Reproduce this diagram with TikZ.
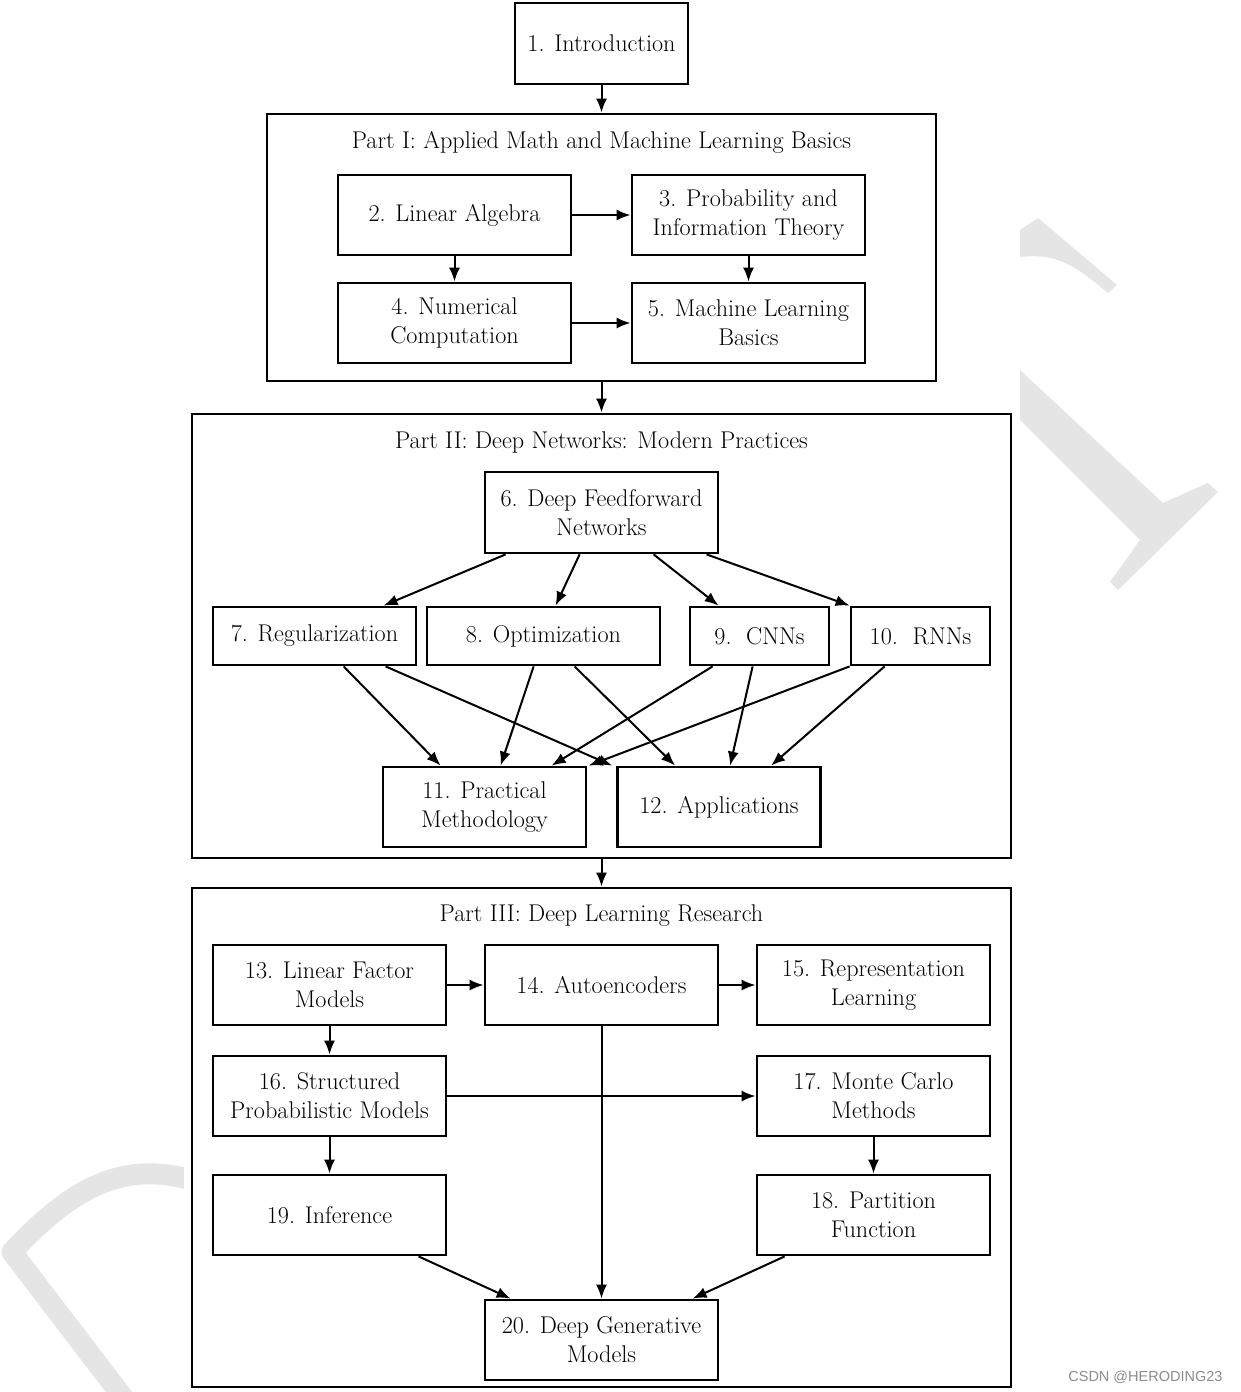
\documentclass[tikz,border=0pt]{standalone}
\usepackage{fontspec}
\newfontfamily\wmfont{Liberation Sans}
\usetikzlibrary{arrows.meta,calc}
\newcommand\dlbfont{\fontsize{24.2}{29}\selectfont}
\definecolor{wmgray}{RGB}{229,229,229}
\definecolor{wmtext}{RGB}{140,140,140}
\begin{document}
\begin{tikzpicture}[x=1pt,y=-1pt,
  box/.style={draw, line width=2.8pt, minimum width=233pt, minimum height=80pt,
    align=center, inner sep=0pt, font=\dlbfont},
  partbox/.style={draw, line width=2.8pt, inner sep=0pt},
  parttitle/.style={inner sep=0pt, font=\dlbfont},
  arr/.style={-{Latex[length=14pt,width=11pt]}, line width=2pt},
  wm/.style={fill=wmgray, draw=none}]
\useasboundingbox (0,0) rectangle (1240,1392);
\fill[white] (0,0) rectangle (1240,1392);
% watermark shapes
\draw[wmgray, line width=21pt, line join=round]
  (192,1180) .. controls (120,1160) and (70,1190) .. (12,1252) -- (125,1400);
\fill[wm] (1020,230) -- (1038,218) -- (1117,285) -- (1108,293)
  .. controls (1080,270) and (1060,252) .. (1020,257) -- cycle;
\fill[wm] (1020,370) -- (1163,503) -- (1208,483) -- (1218,492) -- (1118,590)
  -- (1110,582) -- (1140,540) -- (1020,420) -- cycle;
\fill[white] (184,0) rectangle (1020,1392);
\node[text=wmtext, font=\wmfont\fontsize{14.5}{16}\selectfont, anchor=east] (wmark) at (1226,1377) {CSDN @HERODING23};

% containers
\node[partbox, minimum width=669pt, minimum height=267pt] (p1) at (601.5,247.5) {};
\node[partbox, minimum width=819pt, minimum height=444pt] (p2) at (601.5,636) {};
\node[partbox, minimum width=819pt, minimum height=499pt] (p3) at (601.5,1137.5) {};
\node[parttitle] (t1) at (601.5,142) {Part I: Applied Math and Machine Learning Basics};
\node[parttitle] (t2) at (601.5,442) {Part II: Deep Networks: Modern Practices};
\node[parttitle] (t3) at (601.5,916) {Part III: Deep Learning Research};

% nodes
\node[box, minimum width=173pt, minimum height=81pt] (n1) at (601.5,43.5) {1. Introduction};
\node[box] (n2) at (454.5,215) {2. Linear Algebra};
\node[box] (n3) at (748.5,215) {3. Probability and\\Information Theory};
\node[box] (n4) at (454.5,323) {4. Numerical\\Computation};
\node[box] (n5) at (748.5,323) {5. Machine Learning\\Basics};

\node[box, minimum height=81pt] (n6) at (601.5,512.5) {6. Deep Feedforward\\Networks};
\node[box, minimum width=203pt, minimum height=58pt] (n7) at (314.5,636) {7. Regularization};
\node[box, minimum height=58pt] (n8) at (543.5,636) {8. Optimization};
\node[box, minimum width=139pt, minimum height=58pt] (n9) at (759.5,636) {9.\ \ CNNs};
\node[box, minimum width=139pt, minimum height=58pt] (n10) at (920.5,636) {10.\ \ RNNs};
\node[box, minimum width=203pt] (n11) at (484.5,807) {11. Practical\\Methodology};
\node[box, minimum width=203pt] (n12) at (719,807) {12. Applications};

\node[box] (n13) at (329.5,985) {13. Linear Factor\\Models};
\node[box] (n14) at (601.5,985) {14. Autoencoders};
\node[box] (n15) at (873.5,985) {15. Representation\\Learning};
\node[box] (n16) at (329.5,1096) {16. Structured\\Probabilistic Models};
\node[box] (n17) at (873.5,1096) {17. Monte Carlo\\Methods};
\node[box] (n19) at (329.5,1215) {19. Inference};
\node[box] (n18) at (873.5,1215) {18. Partition\\Function};
\node[box] (n20) at (601.5,1340) {20. Deep Generative\\Models};

% arrows between parts
\draw[arr] (n1.south) -- (p1.north);
\draw[arr] (p1.south) -- (p2.north);
\draw[arr] (p2.south) -- (p3.north);

% part I
\draw[arr] (n2.east) -- (n3.west);
\draw[arr] (n4.east) -- (n5.west);
\draw[arr] (n2.south) -- (n4.north);
\draw[arr] (n3.south) -- (n5.north);

% part II
\draw[arr] ([xshift=22pt]n6.south west) -- ([xshift=172pt]n7.north west);
\draw[arr] ([xshift=96pt]n6.south west) -- ([xshift=130pt]n8.north west);
\draw[arr] ([xshift=170pt]n6.south west) -- ([xshift=30pt]n9.north west);
\draw[arr] ([xshift=223pt]n6.south west) -- (n10.north west);

\draw[arr] ([xshift=132pt]n7.south west) -- ([xshift=59pt]n11.north west);
\draw[arr] ([xshift=174pt]n7.south west) -- ([xshift=-4pt]n12.north west);
\draw[arr] ([xshift=108pt]n8.south west) -- ([xshift=119pt]n11.north west);
\draw[arr] ([xshift=149pt]n8.south west) -- ([xshift=59pt]n12.north west);
\draw[arr] ([xshift=24pt]n9.south west) -- ([xshift=170pt]n11.north west);
\draw[arr] ([xshift=64pt]n9.south west) -- ([xshift=114pt]n12.north west);
\draw[arr] (n10.south west) -- ([xshift=207pt]n11.north west);
\draw[arr] ([xshift=35pt]n10.south west) -- ([xshift=155pt]n12.north west);

% part III
\draw[arr] (n13.east) -- (n14.west);
\draw[arr] (n14.east) -- (n15.west);
\draw[arr] (n13.south) -- (n16.north);
\draw[arr] (n16.east) -- (n17.west);
\draw[arr] (n14.south) -- (n20.north);
\draw[arr] (n16.south) -- (n19.north);
\draw[arr] (n17.south) -- (n18.north);
\draw[arr] ([xshift=207pt]n19.south west) -- ([xshift=27pt]n20.north west);
\draw[arr] ([xshift=29pt]n18.south west) -- ([xshift=209pt]n20.north west);
\end{tikzpicture}
\end{document}
